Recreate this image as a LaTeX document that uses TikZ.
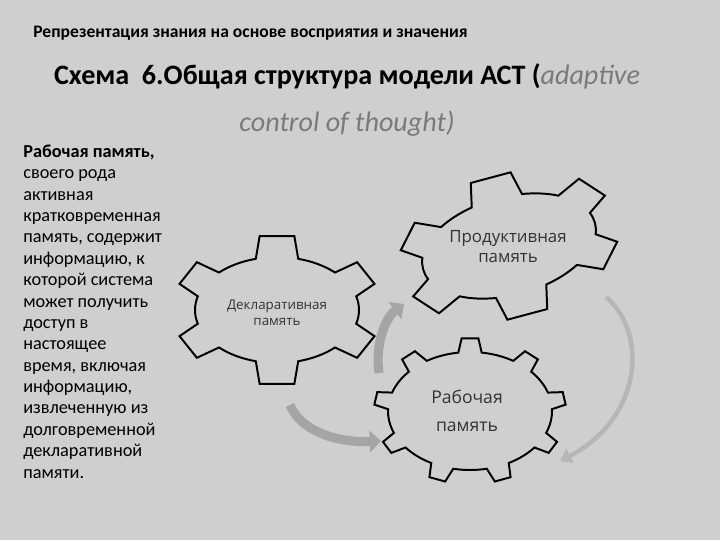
\documentclass[tikz,border=0pt]{standalone}
\usepackage{fontspec}
\setmainfont{Carlito}
\newfontfamily\gearfont{Open Sans}
\usetikzlibrary{arrows.meta}
\definecolor{slidebg}{RGB}{207,207,207}
\definecolor{flowgray}{RGB}{165,165,165}
\definecolor{flowlight}{RGB}{182,182,182}
\definecolor{notegray}{RGB}{122,122,122}
\tikzset{
  gearline/.style = {draw=black, line width=1.4pt, fill=slidebg,
    line join=miter},
  gearlabel/.style = {align=center, inner sep=0pt, text=black!80},
  flow/.style = {-{Triangle[width=15pt,length=8pt]}, line width=6.5pt,
    draw=flowgray},% thick grey arrow
  flowthin/.style = {-{Triangle[width=11pt,length=8pt]}, line width=3.2pt,
    draw=flowlight}% thin grey arrow
}
% centre, rotation, x radius, y radius, tooth depth, teeth,
% half width at root, half width at tip
\newcommand{\drawgear}[8]{%
  \begin{scope}[shift={#1}, rotate=#2]
    \pgfmathsetmacro{\gstep}{360/#6}
    \pgfmathsetmacro{\gxo}{#3+#5}
    \pgfmathsetmacro{\gyo}{#4+#5}
    \draw[gearline] ({270-#7}:#3 and #4)
      \foreach \k in {1,...,#6}{
        -- ({270+(\k-1)*\gstep-#8}:{\gxo} and {\gyo})
        -- ({270+(\k-1)*\gstep+#8}:{\gxo} and {\gyo})
        -- ({270+(\k-1)*\gstep+#7}:#3 and #4)
        arc[start angle={270+(\k-1)*\gstep+#7},
            end angle={270+\k*\gstep-#7}, x radius=#3, y radius=#4]
      } -- cycle;
  \end{scope}}

\begin{document}
\begin{tikzpicture}[x=0.025cm, y=-0.025cm]
    \fill[slidebg] (0,0) rectangle (720,540);
    \useasboundingbox (0,0) rectangle (720,540);

    \node[anchor=base west, inner sep=0pt,
      font=\bfseries\fontsize{12.5}{14}\selectfont] (header) at (33,37)
      {Репрезентация знания на основе восприятия и значения};
    \node[anchor=base, align=center, inner sep=0pt,
      font=\fontsize{20}{33.4}\selectfont] (title) at (347,131)
      {\textbf{Схема\ \ 6.Общая структура модели АСТ (}\textcolor{notegray}{\itshape adaptive}\\
       \textcolor{notegray}{\itshape control of thought)}};

    \node[anchor=base west, align=left, inner sep=0pt,
      font=\fontsize{13}{15.2}\selectfont] (note) at (23,478)
      {\textbf{Рабочая память,}\\своего рода\\активная\\кратковременная\\
       память, содержит\\информацию, к\\которой система\\может получить\\
       доступ в\\настоящее\\время, включая\\информацию,\\извлеченную из\\
       долговременной\\декларативной\\памяти.};

    % arrows between the gears
    \coordinate (decl-out) at (290,405);
    \coordinate (work-in) at (381,441);
    \coordinate (work-out) at (379,373);
    \coordinate (prod-in) at (404,304);
    \coordinate (prod-out) at (606,297);
    \coordinate (work-back) at (560,461);
    \draw[flow] (decl-out) .. controls (300,430) and (335,443) .. (work-in);
    \draw[flow] (work-out) .. controls (375,345) and (385,318) .. (prod-in);
    \draw[flowthin] (prod-out) .. controls (650,335) and (640,420) .. (work-back);

    % gears
    \drawgear{(277,310)}{0}{82}{53}{22}{6}{15}{9.6}
    \drawgear{(509,246)}{15}{89}{49}{23}{6}{17}{10.6}
    \drawgear{(470,411)}{0}{82}{59}{14}{9}{8.2}{5}

    \node[gearlabel, font=\gearfont\fontsize{9.5}{11.4}\selectfont] (decl) at (277,313)
      {Декларативная\\память};
    \node[gearlabel, font=\gearfont\fontsize{12}{14.2}\selectfont] (prod) at (508,247)
      {Продуктивная\\память};
    \node[gearlabel, font=\gearfont\fontsize{12.5}{20}\selectfont] (work) at (467,411)
      {Рабочая\\память};
\end{tikzpicture}
\end{document}
